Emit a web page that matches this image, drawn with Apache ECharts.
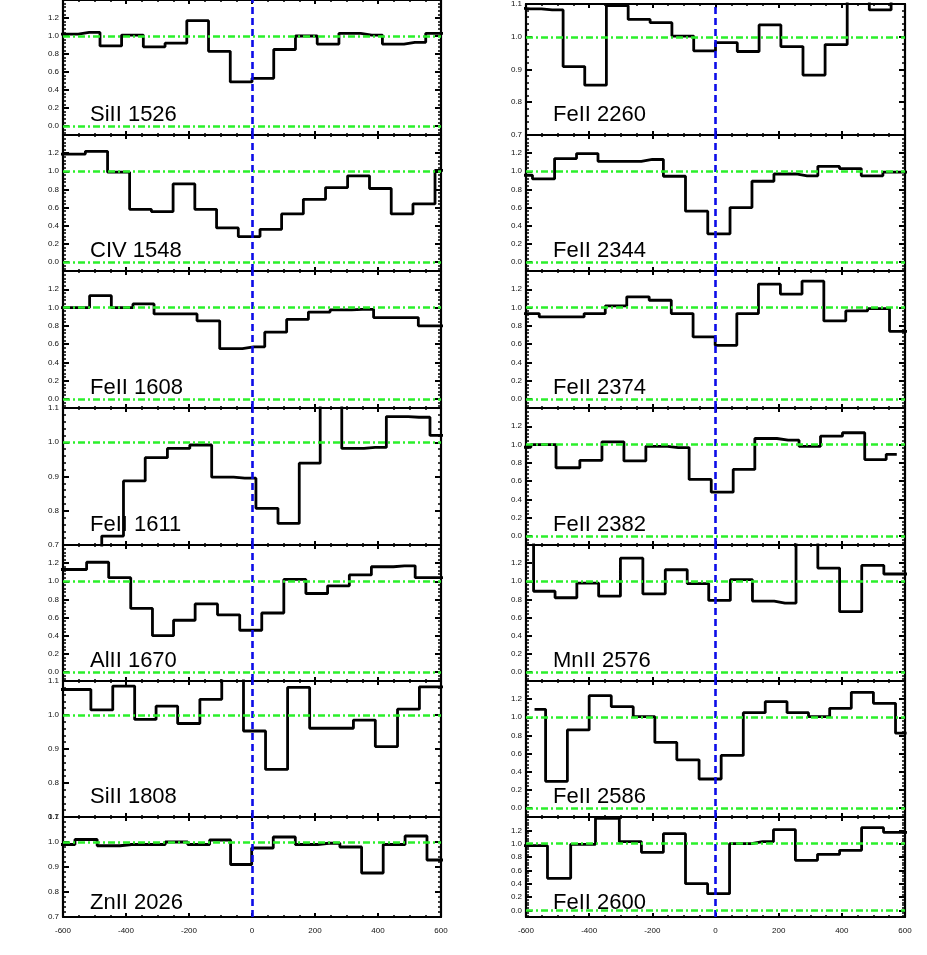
<!DOCTYPE html>
<html><head><meta charset="utf-8">
<script src="https://cdn.jsdelivr.net/npm/echarts@6/dist/echarts.min.js"></script>
<style>html,body{margin:0;padding:0;background:#fff;}#c{width:927px;height:955px;}</style>
</head><body><div id="c"></div>
<script>
// ---- data: bin-centre velocities (km/s) and normalised flux ----
const vel_SiII1526  = [-655,-586,-517,-448,-380,-310,-242,-172,-104,-34,34,104,172,242,310,380,448,517,586,655];
const flux_SiII1526 = [1.02,1.02,1.04,0.89,1.01,0.88,0.92,1.17,0.83,0.49,0.53,0.85,1.00,0.91,1.03,1.01,0.91,0.93,1.03,1.03];

const vel_CIV1548  = [-632,-564,-494,-423,-354,-285,-216,-147,-78,-9,60,128,198,269,338,408,476,546,616];
const flux_CIV1548 = [1.19,1.19,1.22,0.99,0.58,0.555,0.86,0.58,0.375,0.28,0.36,0.53,0.69,0.82,0.95,0.81,0.53,0.64,1.01];

const vel_FeII1608  = [-620,-550,-481,-412,-344,-278,-210,-139,-66,5,76,144,214,282,350,422,494,562,632];
const flux_FeII1608 = [1.0,1.0,1.13,1.0,1.04,0.93,0.93,0.855,0.55,0.57,0.73,0.87,0.95,0.975,0.98,0.89,0.89,0.80,0.80];

const vel_FeII1611  = [-650,-580,-512,-442,-374,-304,-233,-162,-94,-23,48,117,183,250,320,391,462,530,600,668];
const flux_FeII1611 = [0.60,0.60,0.62,0.726,0.887,0.955,0.982,0.992,0.898,0.895,0.807,0.763,0.939,1.15,0.982,0.985,1.075,1.073,1.02,1.02];

const vel_AlII1670  = [-628,-560,-490,-420,-350,-282,-216,-145,-74,-4,66,136,206,274,344,414,484,552,622];
const flux_AlII1670 = [1.13,1.13,1.21,1.04,0.70,0.40,0.57,0.75,0.63,0.46,0.65,1.02,0.865,0.95,1.07,1.16,1.17,1.04,1.04];

const vel_SiII1808  = [-616,-546,-477,-407,-338,-271,-201,-130,-62,8,78,148,218,288,356,427,497,566,635];
const flux_SiII1808 = [1.075,1.075,1.015,1.085,0.987,1.026,0.975,1.046,1.12,0.953,0.84,1.081,0.961,0.961,0.985,0.907,1.017,1.083,1.083];

const vel_ZnII2026  = [-666,-597,-527,-456,-382,-311,-240,-168,-101,-35,33,102,173,244,314,382,451,521,590,660];
const flux_ZnII2026 = [0.99,0.99,1.01,0.985,0.99,0.99,1.0,0.99,1.008,0.91,0.976,1.02,0.99,0.995,0.98,0.876,0.99,1.024,0.928,0.928];

const vel_FeII2260  = [-655,-586,-517,-448,-380,-311,-242,-172,-104,-34,34,104,172,242,312,382,452,522,590,660];
const flux_FeII2260 = [1.088,1.085,1.082,0.909,0.852,1.095,1.053,1.043,1.002,0.957,0.982,0.955,1.036,0.97,0.883,0.976,1.13,1.082,1.12,1.12];

const vel_FeII2344  = [-614,-545,-474,-406,-338,-270,-200,-130,-60,11,81,150,220,290,358,427,496,564,634];
const flux_FeII2344 = [0.956,0.915,1.14,1.195,1.11,1.11,1.13,0.945,0.56,0.31,0.60,0.89,0.97,0.95,1.055,1.03,0.95,0.99,0.99];

const vel_FeII2374  = [-663,-594,-522,-450,-382,-316,-246,-174,-106,-36,34,101,171,240,308,378,447,516,586,655];
const flux_FeII2374 = [0.934,0.934,0.897,0.897,0.934,1.018,1.117,1.08,0.934,0.678,0.586,0.934,1.256,1.147,1.289,0.853,0.963,0.989,0.74,0.74];

const vel_FeII2382  = [-624,-545,-465,-394,-325,-255,-186,-118,-49,22,90,159,230,299,366,438,507,574];
const flux_FeII2382 = [0.97,1.0,0.746,0.827,1.03,0.82,0.98,0.967,0.618,0.478,0.728,1.066,1.048,0.98,1.092,1.129,0.835,0.893];

const vel_MnII2576  = [-610,-542,-474,-404,-336,-266,-194,-124,-55,12,82,152,220,290,358,428,498,568,636];
const flux_MnII2576 = [1.5,0.89,0.818,0.98,0.836,1.255,0.862,1.127,0.975,0.789,1.018,0.782,0.76,1.5,1.145,0.665,1.175,1.08,1.08];

const vel_FeII2586  = [-573,-503,-435,-365,-295,-226,-158,-87,-17,53,123,192,261,328,395,465,535,605];
const flux_FeII2586 = [1.088,0.293,0.86,1.238,1.117,1.007,0.722,0.531,0.319,0.579,1.051,1.172,1.051,1.007,1.099,1.275,1.154,0.824];

const vel_FeII2600  = [-637,-567,-497,-420,-340,-269,-200,-130,-60,10,79,149,218,288,358,428,497,567,637];
const flux_FeII2600 = [0.97,0.97,0.48,0.99,1.38,1.03,0.87,1.15,0.40,0.25,1.0,1.03,1.21,0.75,0.84,0.9,1.24,1.17,1.17];

const xTickValues = [-600,-400,-200,0,200,400,600];
const continuumLevel = 1.0;
const zeroLevel = 0.0;
const systemicVelocity = 0;

const panels = [
  {name:'SiII 1526', v:vel_SiII1526, f:flux_SiII1526, y:[-0.1,1.4]},
  {name:'CIV 1548',  v:vel_CIV1548,  f:flux_CIV1548,  y:[-0.1,1.4]},
  {name:'FeII 1608', v:vel_FeII1608, f:flux_FeII1608, y:[-0.1,1.4]},
  {name:'FeII 1611', v:vel_FeII1611, f:flux_FeII1611, y:[0.7,1.1]},
  {name:'AlII 1670', v:vel_AlII1670, f:flux_AlII1670, y:[-0.1,1.4]},
  {name:'SiII 1808', v:vel_SiII1808, f:flux_SiII1808, y:[0.7,1.1]},
  {name:'ZnII 2026', v:vel_ZnII2026, f:flux_ZnII2026, y:[0.7,1.1]},
  {name:'FeII 2260', v:vel_FeII2260, f:flux_FeII2260, y:[0.7,1.1]},
  {name:'FeII 2344', v:vel_FeII2344, f:flux_FeII2344, y:[-0.1,1.4]},
  {name:'FeII 2374', v:vel_FeII2374, f:flux_FeII2374, y:[-0.1,1.4]},
  {name:'FeII 2382', v:vel_FeII2382, f:flux_FeII2382, y:[-0.1,1.4]},
  {name:'MnII 2576', v:vel_MnII2576, f:flux_MnII2576, y:[-0.1,1.4]},
  {name:'FeII 2586', v:vel_FeII2586, f:flux_FeII2586, y:[-0.1,1.4]},
  {name:'FeII 2600', v:vel_FeII2600, f:flux_FeII2600, y:[-0.1,1.4]}
];

// ---- layout ----
const colLeft = [63, 526], colW = [378, 379];
const rowTop = [-1,135,271,408,545,681,817], rowH = [136,136,137,137,136,136,100];
const GREEN = '#2bf02b', BLUE = '#0c0ce8';

const grid=[], xAxis=[], yAxis=[], series=[], graphic=[];
panels.forEach((p,i)=>{
  const col = i<7?0:1, row = i%7;
  grid.push({left:colLeft[col], top:rowTop[row], width:colW[col], height:rowH[row]});
  const gi = grid.length-1;
  const isBottom = row===6;
  const narrow = p.y[0]===0.7;
  const lineStyle = {color:'#000', width:2.2};
  const xBase = {gridIndex:gi, type:'value', min:-600, max:600, interval:200,
    axisLine:{show:true, onZero:false, lineStyle},
    axisTick:{show:true, inside:true, length:4, lineStyle:{color:'#000', width:2}},
    minorTick:{show:true, splitNumber:4, length:2, lineStyle:{color:'#000', width:1.5}},
    splitLine:{show:false}, minorSplitLine:{show:false}};
  xAxis.push(Object.assign({}, xBase, {position:'bottom',
    axisLabel:{show:isBottom, fontSize:8, color:'#111', margin:10, fontFamily:'Liberation Sans',
      customValues: xTickValues}}));
  xAxis.push(Object.assign({}, xBase, {position:'top', axisLabel:{show:false}}));
  const yBase = {gridIndex:gi, type:'value', min:p.y[0], max:p.y[1], splitNumber: narrow?4:7,
    axisLine:{show:true, onZero:false, lineStyle},
    axisTick:{show:true, inside:true, length:6, lineStyle:{color:'#000', width:2}},
    minorTick:{show:true, splitNumber:5, length:3, lineStyle:{color:'#000', width:1.5}},
    splitLine:{show:false}, minorSplitLine:{show:false}};
  yAxis.push(Object.assign({}, yBase, {position:'left',
    axisLabel:{show:true, fontSize:8, color:'#111', margin:4, fontFamily:'Liberation Sans',
      showMinLabel:narrow, showMaxLabel:narrow, formatter:(v)=>v.toFixed(1)}}));
  yAxis.push(Object.assign({}, yBase, {position:'right', axisLabel:{show:false}}));
  const xi = gi*2, yi = gi*2;
  series.push({type:'line', xAxisIndex:xi, yAxisIndex:yi, step:'middle', showSymbol:false, symbol:'none',
    clip:true, z:2, lineStyle:{color:'#000', width:2.8}, data:p.v.map((v,k)=>[v,p.f[k]])});
  const ml = [{xAxis:systemicVelocity, lineStyle:{color:BLUE, width:2.6, type:[7,4]}}];
  [continuumLevel, zeroLevel].forEach(lv=>{
    if (lv>=p.y[0] && lv<=p.y[1]) ml.push({yAxis:lv, lineStyle:{color:GREEN, width:2.6, type:[7,3,2,3]}});
  });
  series.push({type:'line', xAxisIndex:xi, yAxisIndex:yi, data:[], z:5, silent:true,
    markLine:{silent:true, symbol:'none', label:{show:false}, animation:false, z:5, data:ml}});
  graphic.push({type:'text', x:colLeft[col]+27, y:rowTop[row]+rowH[row]-(isBottom?6:12)-7.7, z:20,
    style:{text:p.name, font:'22px "Liberation Sans", Arial, sans-serif', fill:'#000',
      textVerticalAlign:'middle', verticalAlign:'middle'}});
});

const chart = echarts.init(document.getElementById('c'), null, {renderer:'canvas'});
chart.setOption({animation:false, backgroundColor:'#fff', grid, xAxis, yAxis, series, graphic});
</script></body></html>
